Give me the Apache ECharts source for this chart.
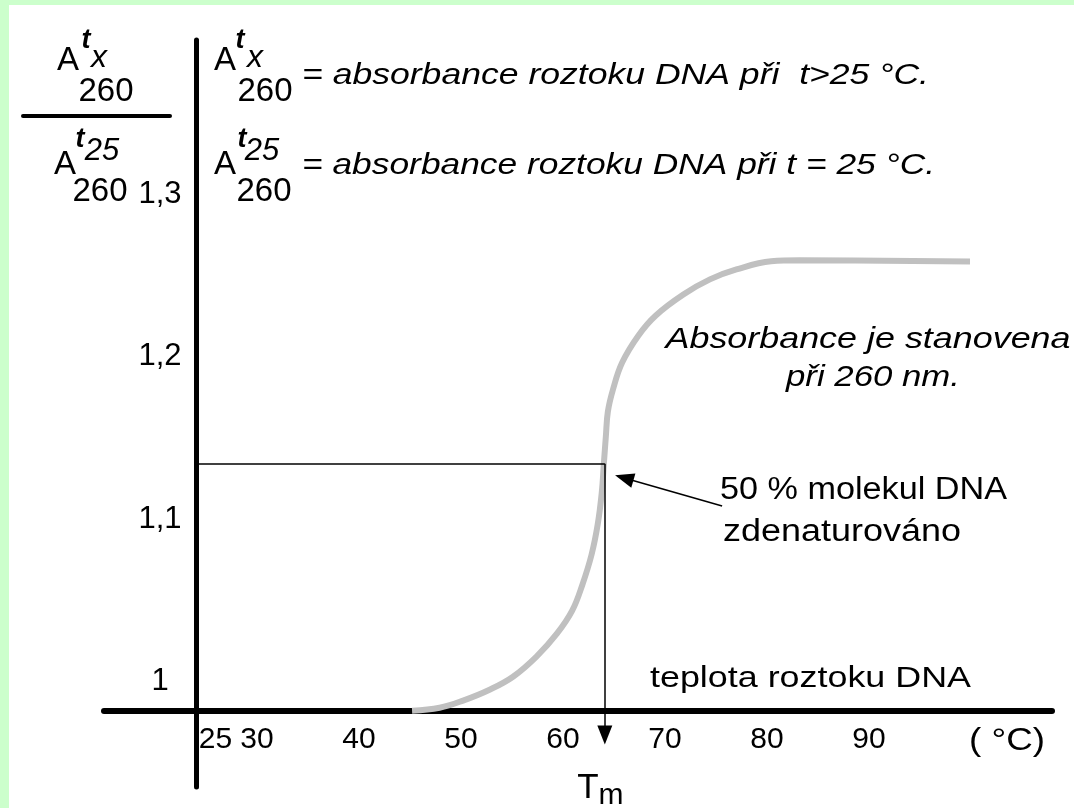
<!DOCTYPE html>
<html><head><meta charset="utf-8">
<script src="https://cdn.jsdelivr.net/npm/echarts@6/dist/echarts.min.js"></script>
<style>html,body{margin:0;padding:0;background:#fff}#c{width:1074px;height:808px}</style>
</head><body><div id="c"></div>
<script>
// ---- data (temperature in °C, A260(tx)/A260(25)) ----
const temperatures = [45.2, 47.9, 50.2, 52.8, 55.1, 57.4, 59.4, 60.9, 61.9, 62.8, 63.4, 63.8, 64.0, 64.2, 64.4, 64.9, 65.8, 67.4, 69.1, 71.8, 74.4, 77.0, 80.4, 83.2, 99.9];
const ratios       = [1.000, 1.0018, 1.0062, 1.0129, 1.0209, 1.0333, 1.0474, 1.0616, 1.0776, 1.0961, 1.1146, 1.1343, 1.1516, 1.1688, 1.1842, 1.1978, 1.2144, 1.2311, 1.2434, 1.2563, 1.2656, 1.2717, 1.2767, 1.2773, 1.2766];
const xTickValues = [25, 30, 40, 50, 60, 70, 80, 90];
const yTickValues = [1.0, 1.1, 1.2, 1.3];
const meltingTemp = 64.1;        // Tm
const halfRatio = 1.152;         // 50 % denatured level
const tmArrowEnd = [64.1, 0.985];
const pointerFrom = [75.6, 1.126];
const pointerTo = [66.0, 1.1433];

// axis layout (shared scale of both grids: 10.2 px per °C)
const X_CROSS = 24.02, X_LEFT_END = 15.0, X_RIGHT_END = 107.94;

const FONT = '"Liberation Sans", Arial, sans-serif';
const ctx = document.createElement('canvas').getContext('2d');
function txt(text, x, y, o) {
  const font = (o.italic ? 'italic ' : '') + (o.bold ? 'bold ' : '') + o.size + 'px ' + FONT;
  const el = { type: 'text', x: x, y: y, z: 20, silent: true,
    style: { text: text, font: font, fill: '#000', align: o.align || 'center', verticalAlign: 'middle',
             textAlign: o.align || 'center', textVerticalAlign: 'middle' } };
  if (o.width) { ctx.font = font; el.scaleX = o.width / ctx.measureText(text).width; }
  return el;
}

const graphics = [
  { type: 'rect', shape: { x: 0, y: 0, width: 1074, height: 5 }, style: { fill: '#ccffcc' }, z: 0 },
  { type: 'rect', shape: { x: 0, y: 0, width: 9, height: 808 }, style: { fill: '#ccffcc' }, z: 0 },
  { type: 'line', shape: { x1: 23, y1: 116, x2: 170, y2: 116 }, style: { stroke: '#000', lineWidth: 4, lineCap: 'round' }, z: 20 },
  // left fraction
  txt('A', 68, 61, { size: 33 }), txt('t', 86, 41, { size: 27, bold: true, italic: true }),
  txt('x', 99, 58, { size: 32, italic: true }), txt('260', 106, 92, { size: 33 }),
  txt('t', 80, 140, { size: 27, bold: true, italic: true }), txt('25', 102, 151, { size: 31, italic: true }),
  txt('A', 65, 165, { size: 33 }), txt('260', 100, 192, { size: 33 }),
  // right legend formula
  txt('A', 225, 61, { size: 33 }), txt('t', 240, 41, { size: 27, bold: true, italic: true }),
  txt('x', 255, 58, { size: 32, italic: true }), txt('260', 265, 92, { size: 33 }),
  txt('A', 225, 165, { size: 33 }), txt('t', 242, 140, { size: 27, bold: true, italic: true }),
  txt('25', 262, 151, { size: 31, italic: true }), txt('260', 264, 192, { size: 33 }),
  txt('= absorbance roztoku DNA při  t>25 °C.', 302, 76, { size: 30, italic: true, align: 'left', width: 627 }),
  txt('= absorbance roztoku DNA při t = 25 °C.', 302, 166, { size: 30, italic: true, align: 'left', width: 633 }),
  txt('Absorbance je stanovena', 868, 340, { size: 30, italic: true, width: 405 }),
  txt('při 260 nm.', 873, 378, { size: 30, italic: true, width: 174 }),
  txt('50 % molekul DNA', 720, 490, { size: 31, align: 'left', width: 287 }),
  txt('zdenaturováno', 723, 532, { size: 31, align: 'left', width: 238 }),
  txt('teplota roztoku DNA', 650, 679, { size: 30, align: 'left', width: 321 }),
  txt('( °C)', 1007, 741, { size: 32, width: 76 }),
  txt('T', 588, 788, { size: 35 }),
  txt('m', 611, 796, { size: 30 })
];

const labelStyle = { color: '#000', fontSize: 30, fontFamily: FONT };
const option = {
  animation: false,
  backgroundColor: '#fff',
  grid: [
    { left: 104, right: 22, top: 40, bottom: 97 },
    { left: 196, right: 22, top: 40, bottom: 21 }
  ],
  xAxis: [
    { gridIndex: 0, type: 'value', min: X_LEFT_END, max: X_RIGHT_END,
      axisLine: { show: true, onZero: false, lineStyle: { color: '#000', width: 6, cap: 'round' } },
      axisTick: { show: false }, splitLine: { show: false },
      axisLabel: Object.assign({ customValues: xTickValues.slice(1), margin: 14, hideOverlap: false }, labelStyle) },
    { gridIndex: 1, type: 'value', min: X_CROSS, max: X_RIGHT_END, position: 'bottom', offset: -76,
      axisLine: { show: false }, axisTick: { show: false }, splitLine: { show: false },
      axisLabel: Object.assign({ customValues: xTickValues.slice(0, 1), margin: 14, padding: [0, 0, 0, 19] }, labelStyle) }
  ],
  yAxis: [
    { gridIndex: 0, type: 'value', min: 1.0, max: 1.413, show: false },
    { gridIndex: 1, type: 'value', min: 0.953, max: 1.413,
      axisLine: { show: true, onZero: false, lineStyle: { color: '#000', width: 5 } },
      axisTick: { show: false }, splitLine: { show: false },
      axisLabel: { customValues: yTickValues, margin: 36, align: 'center', color: '#000', fontSize: 31, fontFamily: FONT,
        verticalAlign: 'bottom', lineHeight: 58,
        formatter: v => String(+v.toFixed(1)).replace('.', ',') } }
  ],
  series: [{
    type: 'line', xAxisIndex: 1, yAxisIndex: 1, clip: false,
    data: temperatures.map((t, i) => [t, ratios[i]]),
    showSymbol: false, symbol: 'none', smooth: 0.4,
    lineStyle: { color: '#c0c0c0', width: 6 },
    markLine: {
      silent: true, symbol: 'none', label: { show: false },
      lineStyle: { color: '#000', width: 1.5, type: 'solid' },
      emphasis: { disabled: true },
      data: [
        [{ coord: [X_CROSS, halfRatio] }, { coord: [meltingTemp, halfRatio] }],
        [{ coord: [meltingTemp, halfRatio] }, { coord: tmArrowEnd, symbol: 'triangle', symbolSize: [15, 19] }],
        [{ coord: pointerFrom }, { coord: pointerTo, symbol: 'triangle', symbolSize: [15, 19] }]
      ]
    }
  }],
  graphic: graphics
};
const chart = echarts.init(document.getElementById('c'), null, { renderer: 'canvas' });
chart.setOption(option);
</script></body></html>
